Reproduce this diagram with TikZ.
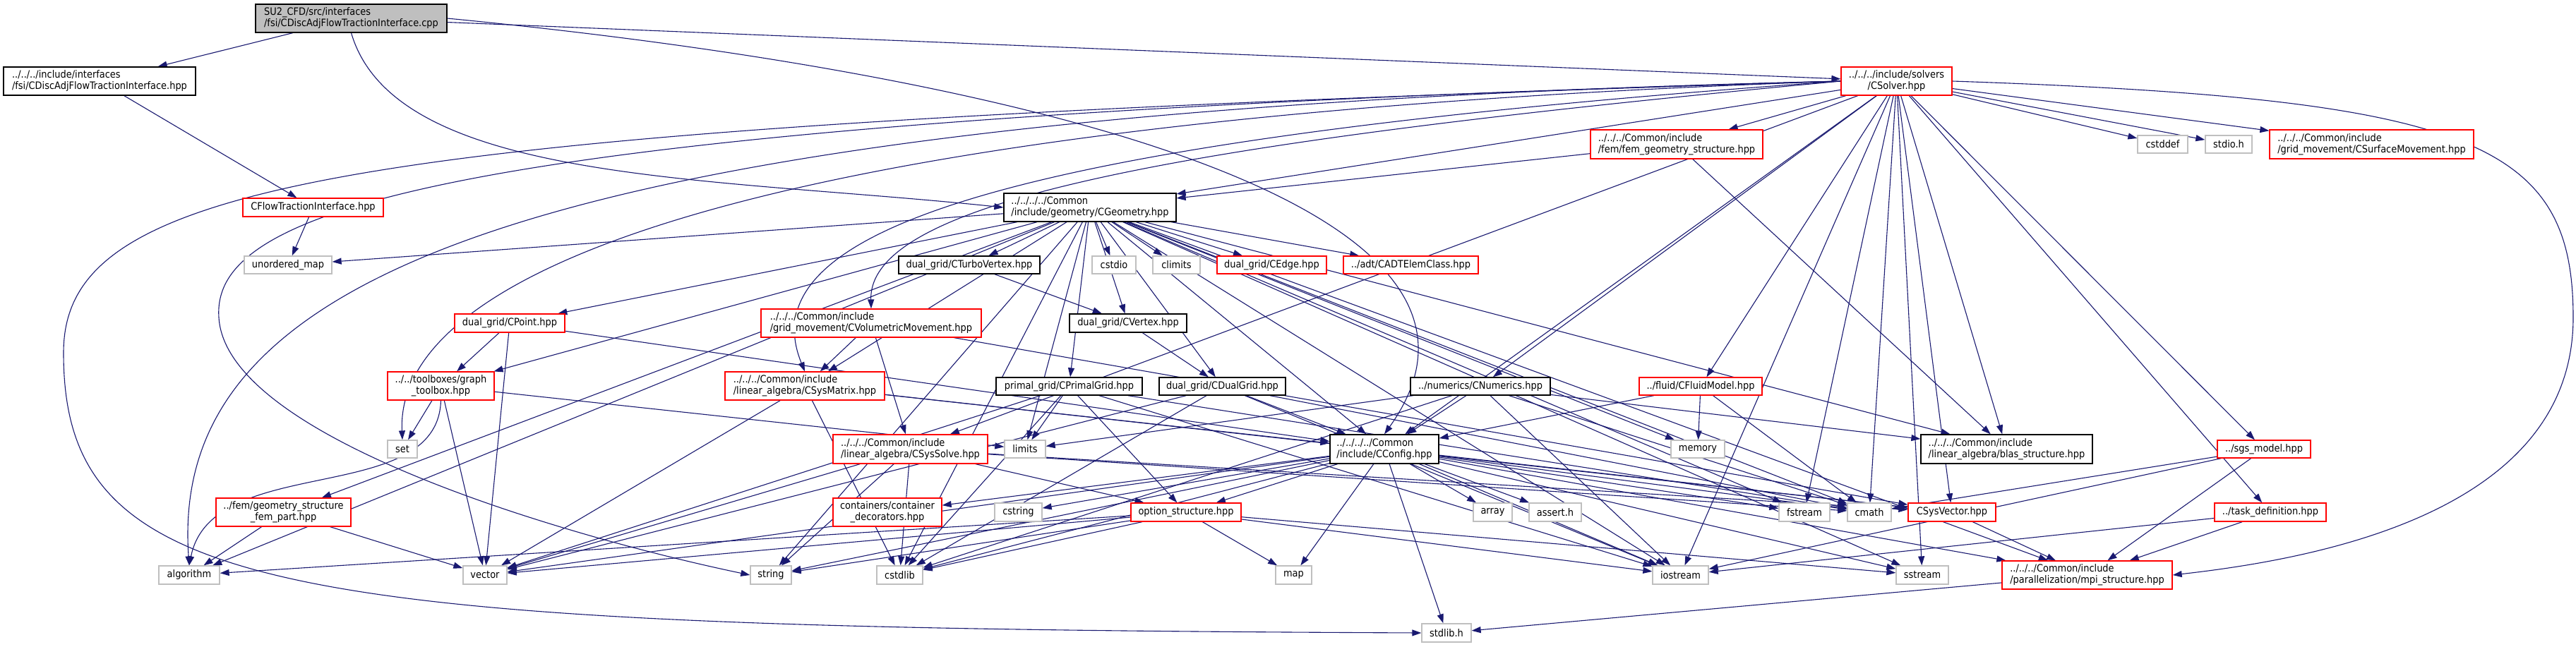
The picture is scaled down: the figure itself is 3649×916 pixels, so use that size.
\documentclass[tikz,border=0pt]{standalone}
\usepackage{fontspec}
\usetikzlibrary{arrows.meta,backgrounds}
\newfontfamily\graphfont{DejaVu Sans Condensed}
\definecolor{edgeblue}{HTML}{191970}
\definecolor{sysgray}{HTML}{BFBFBF}

\tikzset{
  hdr/.style={draw=black, fill=white, line width=1.3pt, inner sep=0pt, align=left,
    font={\graphfont\fontsize{14.4}{16}\selectfont}},
  syshdr/.style={hdr, draw=sysgray},
  cuthdr/.style={hdr, draw=red},
  srcfile/.style={hdr, fill=sysgray},
  sz/.style 2 args={minimum width=#1pt, minimum height=#2pt},
  dep/.style={draw=edgeblue, line width=1.1pt, -{Triangle[length=13pt,width=9pt]}}
}

\begin{document}
\begin{tikzpicture}[x=1pt,y=-1pt]
  \useasboundingbox (0,0) rectangle (3649,916);

  % top rows
  \node[srcfile, sz={271}{40}] (root) at (497.5,26) {SU2\_CFD/src/interfaces\\/fsi/CDiscAdjFlowTractionInterface.cpp};
  \node[hdr, sz={272}{40}] (cdafti) at (141,115) {../../../include/interfaces\\/fsi/CDiscAdjFlowTractionInterface.hpp};
  \node[cuthdr, sz={157}{40}, align=center] (csolver) at (2686.5,115) {../../../include/solvers\\/CSolver.hpp};
  \node[cuthdr, sz={244}{41}] (cfemgeom) at (2375,204.5) {../../../Common/include\\/fem/fem\_geometry\_structure.hpp};
  \node[syshdr, sz={71}{25}] (cstddef) at (3063.5,204.5) {cstddef};
  \node[syshdr, sz={66}{25}] (stdioh) at (3157,204.5) {stdio.h};
  \node[cuthdr, sz={289}{41}] (csurfmov) at (3359.5,204.5) {../../../Common/include\\/grid\_movement/CSurfaceMovement.hpp};
  \node[cuthdr, sz={199}{26}] (cflowti) at (443.5,294) {CFlowTractionInterface.hpp};
  \node[hdr, sz={244}{40}] (cgeom) at (1544,294) {../../../../Common\\/include/geometry/CGeometry.hpp};

  % geometry children
  \node[syshdr, sz={124}{25}] (umap) at (408,375.5) {unordered\_map};
  \node[hdr, sz={200}{25}] (cturbo) at (1373,375.5) {dual\_grid/CTurboVertex.hpp};
  \node[syshdr, sz={62}{25}] (cstdio) at (1578,375.5) {cstdio};
  \node[syshdr, sz={67}{25}] (climits) at (1666.5,375.5) {climits};
  \node[cuthdr, sz={155}{25}] (cedge) at (1801.5,375.5) {dual\_grid/CEdge.hpp};
  \node[cuthdr, sz={191}{25}] (cadt) at (1998.5,375.5) {../adt/CADTElemClass.hpp};
  \node[cuthdr, sz={156}{26}] (cpoint) at (722,458) {dual\_grid/CPoint.hpp};
  \node[cuthdr, sz={312}{40}] (cvolmov) at (1234,458) {../../../Common/include\\/grid\_movement/CVolumetricMovement.hpp};
  \node[hdr, sz={166}{26}] (cvertex) at (1598,458) {dual\_grid/CVertex.hpp};

  % middle rows
  \node[cuthdr, sz={151}{40}, align=center] (gtool) at (624.5,547) {../../toolboxes/graph\\\_toolbox.hpp};
  \node[cuthdr, sz={226}{40}] (csysmat) at (1140,547) {../../../Common/include\\/linear\_algebra/CSysMatrix.hpp};
  \node[hdr, sz={207}{25}] (cprimal) at (1514.5,547.5) {primal\_grid/CPrimalGrid.hpp};
  \node[hdr, sz={179}{25}] (cdual) at (1731.5,547.5) {dual\_grid/CDualGrid.hpp};
  \node[hdr, sz={198}{25}] (cnumerics) at (2097,547.5) {../numerics/CNumerics.hpp};
  \node[cuthdr, sz={174}{25}] (cfluid) at (2409,547.5) {../fluid/CFluidModel.hpp};
  \node[syshdr, sz={42}{25}] (set) at (570,636.5) {set};
  \node[cuthdr, sz={219}{41}] (csyssolve) at (1289.5,636.5) {../../../Common/include\\/linear\_algebra/CSysSolve.hpp};
  \node[syshdr, sz={58}{25}] (limits) at (1452,636.5) {limits};
  \node[hdr, sz={154}{41}] (cconfig) at (1961,636.5) {../../../../Common\\/include/CConfig.hpp};
  \node[syshdr, sz={76}{25}] (memory) at (2405,636.5) {memory};
  \node[hdr, sz={243}{41}] (blas) at (2842.5,636.5) {../../../Common/include\\/linear\_algebra/blas\_structure.hpp};
  \node[cuthdr, sz={132}{25}] (sgs) at (3207,636.5) {../sgs\_model.hpp};

  \node[cuthdr, sz={191}{40}, align=center] (fempart) at (401.5,726) {../fem/geometry\_structure\\\_fem\_part.hpp};
  \node[cuthdr, sz={154}{40}, align=center] (contdec) at (1257,726) {containers/container\\\_decorators.hpp};
  \node[syshdr, sz={67}{26}] (cstring) at (1442.5,726) {cstring};
  \node[cuthdr, sz={156}{26}] (optstruct) at (1680,726) {option\_structure.hpp};
  \node[syshdr, sz={55}{26}] (array) at (2114.5,726) {array};
  \node[syshdr, sz={74}{26}] (asserth) at (2203,726) {assert.h};
  \node[syshdr, sz={72}{26}] (fstream) at (2556,726) {fstream};
  \node[syshdr, sz={62}{26}] (cmath) at (2648,726) {cmath};
  \node[cuthdr, sz={124}{26}] (csysvec) at (2765,726) {CSysVector.hpp};
  \node[cuthdr, sz={158}{26}] (taskdef) at (3216,726) {../task\_definition.hpp};

  % bottom rows
  \node[syshdr, sz={86}{26}] (algorithm) at (268,815) {algorithm};
  \node[syshdr, sz={62}{26}] (vector) at (687,815) {vector};
  \node[syshdr, sz={58}{26}] (string) at (1092,815) {string};
  \node[syshdr, sz={65}{26}] (cstdlib) at (1274.5,815) {cstdlib};
  \node[syshdr, sz={51}{26}] (map) at (1832.5,815) {map};
  \node[syshdr, sz={79}{26}] (iostream) at (2380.5,815) {iostream};
  \node[syshdr, sz={74}{26}] (sstream) at (2723,815) {sstream};
  \node[cuthdr, sz={241}{40}] (mpi) at (2956.5,815) {../../../Common/include\\/parallelization/mpi\_structure.hpp};
  \node[syshdr, sz={70}{26}] (stdlibh) at (2049,897) {stdlib.h};

  \begin{scope}[on background layer]
    % source file
    \foreach \t in {cdafti,csolver} \draw[dep] (root) -- (\t);
    \draw[dep] (root.south) .. controls (560,260) and (1000,250) .. (cgeom.west);
    \draw[dep] (root.east) .. controls (1400,100) and (2200,280) .. (cconfig.north);
    \draw[dep] (cdafti) -- (cflowti);
    \draw[dep] (cflowti) -- (umap);
    % solver header
    \foreach \t in {cfemgeom,cgeom,cstddef,stdioh,csurfmov,cnumerics,cfluid,blas,sgs,taskdef,
        cconfig,csyssolve,csysvec,iostream,fstream,cmath,sstream}
      \draw[dep] (csolver) -- (\t);
    \draw[dep] (csolver.west) .. controls (1700,200) and (1230,280) .. (cvolmov.north);
    \draw[dep] (csolver.west) .. controls (1400,200) and (1060,330) .. (csysmat.north);
    \draw[dep] (csolver.west) .. controls (1000,170) and (560,400) .. (set.north);
    \draw[dep] (csolver.west) .. controls (700,160) and (240,400) .. (algorithm.north);
    \draw[dep] (csolver.west) .. controls (600,170) and (300,300) .. (310,450)
        .. controls (320,620) and (800,760) .. (string.west);
    \draw[dep] (csolver.west) .. controls (500,180) and (90,250) .. (90,500)
        .. controls (90,850) and (400,890) .. (stdlibh.west);
    \draw[dep] (csolver.east) .. controls (3500,140) and (3645,200) .. (3645,450)
        .. controls (3645,720) and (3300,790) .. (mpi.east);
    \foreach \t in {cgeom,blas} \draw[dep] (cfemgeom) -- (\t);
    % geometry header
    \foreach \t in {cturbo,cstdio,climits,cedge,cadt,cvertex,cpoint,gtool,fempart,algorithm,
        umap,cprimal,cdual,limits,cconfig,cmath,fstream,iostream,mpi,memory,string,cstdlib,
        csysmat,sstream,blas}
      \draw[dep] (cgeom) -- (\t);
    \draw[dep] (cturbo) -- (cvertex);
    \draw[dep] (cvertex) -- (cdual);
    \foreach \t in {gtool,vector,cconfig} \draw[dep] (cpoint) -- (\t);
    \foreach \t in {set,vector,limits} \draw[dep] (gtool) -- (\t);
    \draw[dep] (gtool.south) .. controls (620,720) and (300,640) .. (algorithm.north);
    \foreach \t in {algorithm,vector} \draw[dep] (fempart) -- (\t);
    % linear algebra and grids
    \foreach \t in {csysmat,csyssolve,csysvec} \draw[dep] (cvolmov) -- (\t);
    \foreach \t in {vector,csysvec,cconfig,cstdlib} \draw[dep] (csysmat) -- (\t);
    \foreach \t in {limits,optstruct,vector,cstdlib,iostream,cmath} \draw[dep] (cprimal) -- (\t);
    \foreach \t in {cconfig,cstdlib,vector,cmath,iostream} \draw[dep] (cdual) -- (\t);
    \foreach \t in {vector,string,cstdlib,optstruct,csysvec,cmath} \draw[dep] (csyssolve) -- (\t);
    \foreach \t in {map,string,cstdlib,vector,iostream,sstream,algorithm} \draw[dep] (optstruct) -- (\t);
    % config
    \foreach \t in {optstruct,map,cstdlib,cstring,contdec,vector,string,array,asserth,fstream,
        cmath,csysvec,iostream,sstream,mpi,stdlibh}
      \draw[dep] (cconfig) -- (\t);
    \foreach \t in {cconfig,blas,cmath,iostream,limits,cstdlib} \draw[dep] (cnumerics) -- (\t);
    \foreach \t in {memory,cconfig,cmath} \draw[dep] (cfluid) -- (\t);
    \draw[dep] (csysvec) -- (mpi);
    \foreach \t in {mpi,cmath,iostream} \draw[dep] (sgs) -- (\t);
    \foreach \t in {mpi,iostream} \draw[dep] (taskdef) -- (\t);
    \draw[dep] (mpi) -- (stdlibh);
  \end{scope}
\end{tikzpicture}
\end{document}
